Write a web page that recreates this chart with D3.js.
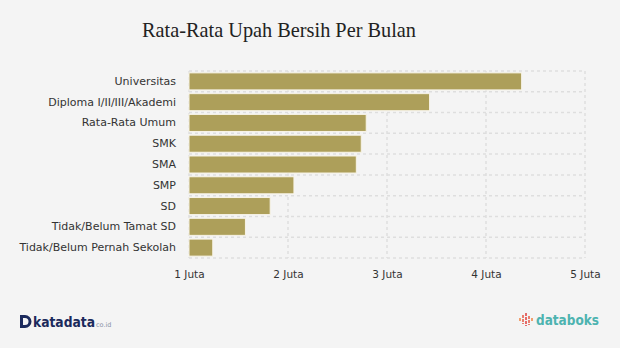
<!DOCTYPE html>
<html><head><meta charset="utf-8">
<script src="https://cdnjs.cloudflare.com/ajax/libs/d3/7.8.5/d3.min.js"></script>
<style>html,body{margin:0;padding:0;background:#f4f4f4;}svg{display:block;}</style>
</head><body>
<svg id="c" width="620" height="348"></svg>
<script>
const title = "Rata-Rata Upah Bersih Per Bulan";
const categories = ["Universitas","Diploma I/II/III/Akademi","Rata-Rata Umum","SMK","SMA","SMP","SD","Tidak/Belum Tamat SD","Tidak/Belum Pernah Sekolah"];
const values = [4.36, 3.43, 2.79, 2.74, 2.69, 2.06, 1.82, 1.57, 1.24]; // juta rupiah
const tickValues = [1,2,3,4,5];
const tickLabels = ["1 Juta","2 Juta","3 Juta","4 Juta","5 Juta"];

const svg = d3.select("#c");
svg.append("rect").attr("width",620).attr("height",348).attr("fill","#f4f4f4");

const x = d3.scaleLinear().domain([1,5]).range([189,585]);
const y = d3.scaleBand().domain(categories).range([71,258]).paddingInner(0.18).paddingOuter(0.09);
const band = d3.scaleBand().domain(categories).range([71,258]);

svg.append("text").attr("x",142).attr("y",37).text(title)
  .attr("font-family","'Liberation Serif', serif").attr("font-size",21).attr("fill","#222")
  .attr("textLength",274).attr("lengthAdjust","spacingAndGlyphs");

const grid = svg.append("g");
const hLines = categories.map(c=>band(c)).concat([258]);
grid.selectAll("line.h").data(hLines).join("line").attr("class","h")
  .attr("x1",189).attr("x2",585).attr("y1",d=>d).attr("y2",d=>d)
  .attr("stroke","#dedede").attr("stroke-width",1.5).attr("stroke-dasharray","3,3");
grid.selectAll("line.v").data(tickValues).join("line").attr("class","v")
  .attr("x1",d=>x(d)).attr("x2",d=>x(d)).attr("y1",71).attr("y2",258)
  .attr("stroke","#dedede").attr("stroke-width",1.5).attr("stroke-dasharray","3,3");

svg.selectAll("rect.bar").data(values).join("rect").attr("class","bar")
  .attr("x",x(1)).attr("y",(d,i)=>y(categories[i]))
  .attr("width",d=>x(d)-x(1)).attr("height",y.bandwidth())
  .attr("fill","#ad9f5a").attr("stroke","#f8f4e8").attr("stroke-width",1);

const yAxis = d3.axisLeft(y).tickSize(0).tickPadding(0);
const gy = svg.append("g").attr("transform","translate(176,0)").call(yAxis);
gy.select(".domain").remove();
gy.selectAll("text").attr("font-family","'DejaVu Sans', Verdana, sans-serif").attr("font-size",11).attr("fill","#333");

const xAxis = d3.axisBottom(x).tickValues(tickValues).tickFormat((d,i)=>tickLabels[i]).tickSize(0).tickPadding(0);
const gx = svg.append("g").attr("transform","translate(0,271)").call(xAxis);
gx.select(".domain").remove();
gx.selectAll("text").attr("font-family","'DejaVu Sans', Verdana, sans-serif").attr("font-size",10.5).attr("fill","#333");

// katadata logo
const kd = svg.append("g");
kd.append("path").attr("d","M20,315 h5 a6.5,6.5 0 0 1 0,13 h-5 z M23,318 v7 h2 a3.5,3.5 0 0 0 0,-7 z").attr("fill","#1b2a5c").attr("fill-rule","evenodd");
kd.append("text").attr("x",33).attr("y",327).text("katadata").attr("font-family","'DejaVu Sans Condensed','DejaVu Sans',sans-serif")
  .attr("font-weight","bold").attr("font-size",14).attr("fill","#1b2a5c").attr("textLength",62).attr("lengthAdjust","spacingAndGlyphs");
kd.append("text").attr("x",96).attr("y",327).text("co.id").attr("font-family","'DejaVu Sans',sans-serif")
  .attr("font-size",6.5).attr("fill","#8a93a8");

// databoks logo
const db = svg.append("g");
const bars = [[520,318,322,"#f08a4b"],[523,315,324,"#e8604c"],[526,313,326,"#e04848"],[529,316,325,"#e8604c"],[532,318,322,"#f08a4b"]];
db.selectAll("line").data(bars).join("line").attr("x1",d=>d[0]).attr("x2",d=>d[0]).attr("y1",d=>d[1]).attr("y2",d=>d[2])
  .attr("stroke",d=>d[3]).attr("stroke-width",1.6).attr("stroke-dasharray","3,1");
db.append("text").attr("x",536).attr("y",325).text("databoks").attr("font-family","'DejaVu Sans Condensed','DejaVu Sans',sans-serif")
  .attr("font-weight","bold").attr("font-size",13.5).attr("fill","#4db3b0").attr("textLength",63).attr("lengthAdjust","spacingAndGlyphs");
</script>
</body></html>
